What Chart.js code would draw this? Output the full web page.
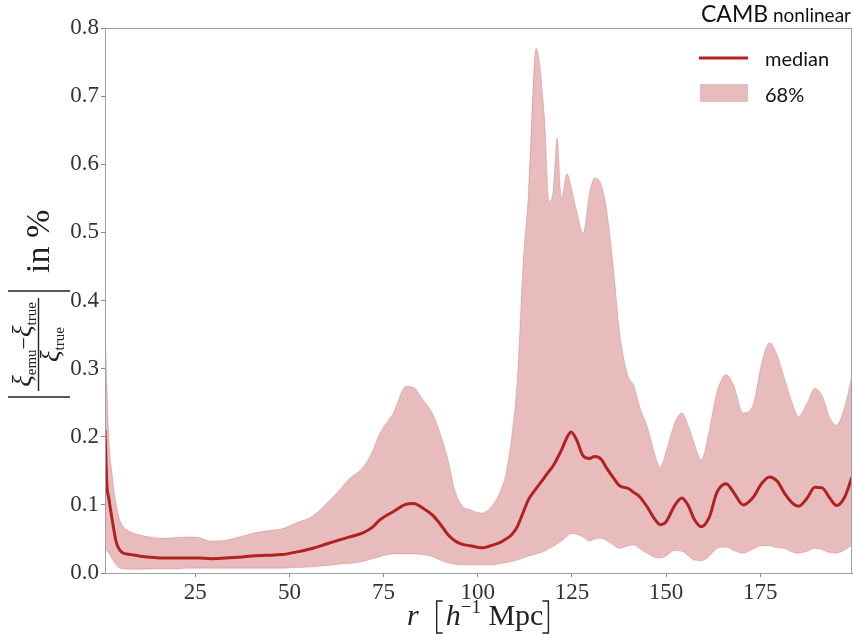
<!DOCTYPE html>
<html>
<head>
<meta charset="utf-8">
<script src="https://cdn.jsdelivr.net/npm/chart.js@4.4.1/dist/chart.umd.min.js"></script>
<style>
  html, body { margin: 0; padding: 0; background: #fff; }
  #wrap { width: 853px; height: 634px; }
</style>
</head>
<body>
<div id="wrap"><canvas id="errChart"></canvas></div>
<script>
// separation r [h^-1 Mpc]
const r = [1, 1.5, 2, 3, 4, 5, 6, 8, 10, 13, 16, 20, 23, 26, 29, 33, 36, 40, 44, 48,
  52, 56, 60, 63, 66, 69.5, 72, 74, 77.5, 81, 83, 85.5, 88, 90, 92, 94, 96, 98, 101, 104,
  106, 107.5, 109, 110.5, 112, 113.5, 115.5, 117.7, 119, 120, 121.1, 122.2, 123.7, 124.8, 126.2, 128, 129.7, 131, 132.8, 134.1,
  136, 137.7, 140, 141.5, 143, 145, 147, 148.5, 150, 152.3, 154.2, 156, 157.5, 159.4, 161.5, 163.5, 166, 168, 170.5, 173,
  175.5, 177.5, 179.5, 181.5, 183.5, 185.2, 187.5, 189.5, 191.5, 193.5, 195.3, 197.5, 199.4];

const median = [0.21, 0.13, 0.11, 0.075, 0.045, 0.033, 0.029, 0.027, 0.025, 0.023, 0.022, 0.022, 0.022, 0.022, 0.021, 0.022, 0.023, 0.025, 0.026, 0.027,
  0.031, 0.036, 0.043, 0.048, 0.053, 0.059, 0.067, 0.078, 0.090, 0.101, 0.102, 0.095, 0.085, 0.072, 0.057, 0.047, 0.042, 0.040, 0.037, 0.041,
  0.045, 0.050, 0.056, 0.068, 0.088, 0.108, 0.124, 0.140, 0.150, 0.157, 0.168, 0.180, 0.199, 0.207, 0.196, 0.172, 0.168, 0.171, 0.167, 0.155,
  0.140, 0.128, 0.124, 0.118, 0.112, 0.097, 0.079, 0.071, 0.075, 0.099, 0.110, 0.098, 0.079, 0.068, 0.082, 0.118, 0.131, 0.118, 0.100, 0.110,
  0.132, 0.141, 0.135, 0.117, 0.103, 0.098, 0.110, 0.126, 0.125, 0.110, 0.099, 0.112, 0.141];

const upper = [0.36, 0.28, 0.2, 0.14, 0.10, 0.077, 0.067, 0.060, 0.056, 0.053, 0.051, 0.052, 0.053, 0.052, 0.047, 0.048, 0.052, 0.058, 0.062, 0.065,
  0.074, 0.083, 0.103, 0.12, 0.139, 0.155, 0.178, 0.205, 0.234, 0.274, 0.272, 0.254, 0.234, 0.205, 0.168, 0.12, 0.098, 0.093, 0.088, 0.10,
  0.12, 0.146, 0.2, 0.283, 0.45, 0.56, 0.77, 0.67, 0.545, 0.56, 0.638, 0.55, 0.586, 0.567, 0.533, 0.499, 0.558, 0.58, 0.57, 0.538,
  0.45, 0.352, 0.288, 0.275, 0.244, 0.215, 0.175, 0.155, 0.178, 0.22, 0.235, 0.215, 0.19, 0.166, 0.21, 0.265, 0.291, 0.275, 0.235, 0.245,
  0.31, 0.338, 0.32, 0.285, 0.25, 0.23, 0.25, 0.271, 0.26, 0.228, 0.217, 0.245, 0.29];

const lower = [0.036, 0.033, 0.029, 0.02, 0.012, 0.007, 0.006, 0.0055, 0.0055, 0.006, 0.006, 0.006, 0.007, 0.007, 0.007, 0.007, 0.007, 0.007, 0.007, 0.007,
  0.008, 0.009, 0.011, 0.013, 0.014, 0.017, 0.021, 0.024, 0.028, 0.028, 0.028, 0.027, 0.024, 0.019, 0.015, 0.013, 0.012, 0.012, 0.012, 0.012,
  0.014, 0.015, 0.017, 0.019, 0.022, 0.025, 0.028, 0.032, 0.036, 0.039, 0.043, 0.047, 0.054, 0.058, 0.057, 0.053, 0.047, 0.05, 0.051, 0.048,
  0.041, 0.036, 0.04, 0.041, 0.036, 0.029, 0.023, 0.022, 0.025, 0.033, 0.032, 0.025, 0.019, 0.018, 0.025, 0.036, 0.038, 0.033, 0.029, 0.035,
  0.04, 0.040, 0.037, 0.036, 0.031, 0.029, 0.032, 0.036, 0.034, 0.030, 0.029, 0.034, 0.041];

const xTicks = [25, 50, 75, 100, 125, 150, 175];
const yTicks = [0, 0.1, 0.2, 0.3, 0.4, 0.5, 0.6, 0.7, 0.8];

const lineColor = '#b22222';
const bandColor = 'rgba(178, 34, 34, 0.3)';
const serif = '"Liberation Serif", "DejaVu Serif", serif';
const sans = 'Lato, "Open Sans", sans-serif';

function toPoints(ys) {
    return r.map((x, i) => ({ x: x, y: ys[i] }));
}

// text pieces drawn one after another: [text, font, baseline shift]
function drawRun(ctx, pieces, x, y) {
    let pos = x;
    pieces.forEach(p => {
        ctx.font = p[1];
        ctx.fillText(p[0], pos, y + (p[2] || 0));
        pos += ctx.measureText(p[0]).width;
    });
    return pos;
}
function runWidth(ctx, pieces) {
    let w = 0;
    pieces.forEach(p => { ctx.font = p[1]; w += ctx.measureText(p[0]).width; });
    return w;
}

const decorations = {
    id: 'decorations',
    afterDraw(chart) {
        const ctx = chart.ctx;
        const area = chart.chartArea;
        ctx.save();

        // frame
        ctx.strokeStyle = '#a0a0a0';
        ctx.lineWidth = 1;
        ctx.strokeRect(area.left + 0.5, area.top + 0.5, area.right - area.left - 1, area.bottom - area.top);

        // title, top right
        ctx.fillStyle = '#111';
        ctx.textBaseline = 'alphabetic';
        const title = [['CAMB', '23px ' + sans], [' nonlinear', '19px ' + sans]];
        drawRun(ctx, title, 851 - runWidth(ctx, title), 22);

        // legend
        ctx.strokeStyle = lineColor;
        ctx.lineWidth = 3;
        ctx.beginPath();
        ctx.moveTo(699, 58);
        ctx.lineTo(748, 58);
        ctx.stroke();
        ctx.fillStyle = bandColor;
        ctx.fillRect(700, 84, 48, 18);
        ctx.fillStyle = '#111';
        ctx.font = '20px ' + sans;
        ctx.fillText('median', 765, 66);
        ctx.fillText('68%', 765, 102);

        // x axis title
        ctx.fillStyle = '#222';
        ctx.strokeStyle = '#222';
        const xStart = 407;
        ctx.font = 'italic 30px ' + serif;
        const rW = ctx.measureText('r').width;
        drawRun(ctx, [['r', 'italic 30px ' + serif]], xStart, 625);
        const inner = [
            ['h', 'italic 30px ' + serif],
            ['\u22121', '19px ' + serif, -12],
            [' Mpc', '30px ' + serif]
        ];
        const bL = xStart + rW + 18;
        const end = drawRun(ctx, inner, bL + 9, 625);
        const bR = end + 5;
        ctx.lineWidth = 1.4;
        ctx.beginPath();
        ctx.moveTo(bL + 6, 601); ctx.lineTo(bL, 601); ctx.lineTo(bL, 633); ctx.lineTo(bL + 6, 633);
        ctx.moveTo(bR - 6, 601); ctx.lineTo(bR, 601); ctx.lineTo(bR, 633); ctx.lineTo(bR - 6, 633);
        ctx.stroke();

        // y axis title, rotated
        ctx.translate(38, 397);
        ctx.rotate(-Math.PI / 2);
        ctx.lineWidth = 1.4;
        ctx.beginPath();
        ctx.moveTo(0, -30); ctx.lineTo(0, 32);
        ctx.moveTo(106, -30); ctx.lineTo(106, 32);
        ctx.moveTo(6, 0.5); ctx.lineTo(99, 0.5);
        ctx.stroke();
        const xiFont = 'italic 27px ' + serif;
        const subFont = '15px ' + serif;
        const num = [['\u03be', xiFont], ['emu', subFont, 5], ['\u2212', '22px ' + serif], ['\u03be', xiFont], ['true', subFont, 5]];
        const den = [['\u03be', xiFont], ['true', subFont, 5]];
        drawRun(ctx, num, 52.5 - runWidth(ctx, num) / 2, -7);
        drawRun(ctx, den, 52.5 - runWidth(ctx, den) / 2, 21);
        drawRun(ctx, [['in %', '34px ' + serif]], 124, 11);

        ctx.restore();
    }
};

const ctx = document.getElementById('errChart').getContext('2d');
const chart = new Chart(ctx, {
    type: 'line',
    data: {
        datasets: [{
            label: 'median',
            data: toPoints(median),
            borderColor: lineColor,
            borderWidth: 3,
            pointRadius: 0,
            fill: false,
            cubicInterpolationMode: 'monotone'
        }, {
            label: 'lower',
            data: toPoints(lower),
            borderColor: 'rgba(178, 34, 34, 0.2)',
            borderWidth: 1,
            pointRadius: 0,
            fill: false,
            cubicInterpolationMode: 'monotone'
        }, {
            label: '68%',
            data: toPoints(upper),
            borderColor: 'rgba(178, 34, 34, 0.2)',
            backgroundColor: bandColor,
            borderWidth: 1,
            pointRadius: 0,
            fill: 1,
            cubicInterpolationMode: 'monotone'
        }]
    },
    options: {
        responsive: true,
        maintainAspectRatio: false,
        animation: false,
        layout: { padding: { top: 28, right: 1, left: 0, bottom: 0 } },
        plugins: {
            legend: { display: false },
            tooltip: { enabled: false }
        },
        scales: {
            x: {
                type: 'linear',
                min: 1,
                max: 199.4,
                afterBuildTicks: scale => { scale.ticks = xTicks.map(v => ({ value: v })); },
                afterFit: scale => { scale.height = 61; },
                ticks: {
                    font: { family: serif, size: 23 },
                    color: '#333',
                    padding: 2,
                    maxRotation: 0
                },
                grid: { drawOnChartArea: false, tickLength: 4, color: '#888' },
                border: { color: '#a0a0a0' }
            },
            y: {
                min: 0,
                max: 0.8,
                afterBuildTicks: scale => { scale.ticks = yTicks.map(v => ({ value: v })); },
                afterFit: scale => { scale.width = 105; },
                ticks: {
                    font: { family: serif, size: 23 },
                    color: '#333',
                    padding: 2,
                    callback: v => v.toFixed(1)
                },
                grid: { drawOnChartArea: false, tickLength: 4, color: '#888' },
                border: { color: '#a0a0a0' }
            }
        }
    },
    plugins: [decorations]
});
</script>
</body>
</html>
